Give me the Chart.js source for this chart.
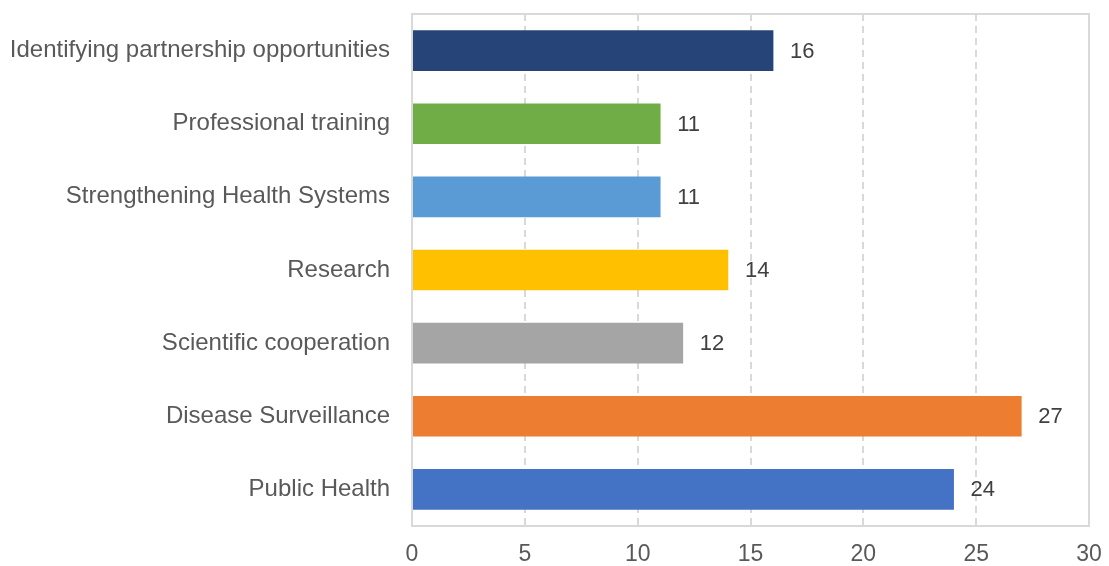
<!DOCTYPE html>
<html>
<head>
<meta charset="utf-8">
<script src="https://cdn.jsdelivr.net/npm/chart.js@4/dist/chart.umd.min.js"></script>
<style>
  html, body { margin: 0; padding: 0; background: #fff; }
  #wrap { width: 1109px; height: 566px; }
</style>
</head>
<body>
<div id="wrap"><canvas id="areasChart" width="1109" height="566"></canvas></div>
<script>
// chart data, top bar first
const categories = [
    'Identifying partnership opportunities',
    'Professional training',
    'Strengthening Health Systems',
    'Research',
    'Scientific cooperation',
    'Disease Surveillance',
    'Public Health'
];
const counts = [16, 11, 11, 14, 12, 27, 24];
const barColors = ['#264478', '#70AD47', '#5B9BD5', '#FFC000', '#A5A5A5', '#ED7D31', '#4472C4'];
const xTicks = [0, 5, 10, 15, 20, 25, 30];

const fontFamily = '"Liberation Sans", Arial, Helvetica, sans-serif';

// box around the plot area
const plotBorder = {
    id: 'plotBorder',
    afterDraw(chart) {
        const { ctx, chartArea: a } = chart;
        ctx.save();
        ctx.strokeStyle = '#d9d9d9';
        ctx.lineWidth = 2;
        ctx.strokeRect(a.left, a.top, a.right - a.left, a.bottom - a.top);
        ctx.restore();
    }
};

// value labels to the right of each bar
const valueLabels = {
    id: 'valueLabels',
    afterDatasetsDraw(chart) {
        const { ctx } = chart;
        const meta = chart.getDatasetMeta(0);
        ctx.save();
        ctx.font = '22px ' + fontFamily;
        ctx.fillStyle = '#404040';
        ctx.textAlign = 'left';
        ctx.textBaseline = 'middle';
        meta.data.forEach((bar, i) => {
            ctx.fillText(String(counts[i]), bar.x + 17, bar.y + 1);
        });
        ctx.restore();
    }
};

const ctx = document.getElementById('areasChart').getContext('2d');
const areasChart = new Chart(ctx, {
    type: 'bar',
    data: {
        labels: categories,
        datasets: [{
            data: counts,
            backgroundColor: barColors,
            borderWidth: 0,
            barThickness: 40
        }]
    },
    options: {
        indexAxis: 'y',
        responsive: false,
        animation: false,
        layout: { padding: { top: 14, right: 20, bottom: 0, left: 0 } },
        plugins: {
            legend: { display: false },
            tooltip: { enabled: false }
        },
        scales: {
            x: {
                min: 0,
                max: 30,
                afterBuildTicks(scale) {
                    scale.ticks = xTicks.map(v => ({ value: v }));
                },
                afterFit(scale) {
                    scale.height = 40;
                    scale.paddingLeft = 0;
                    scale.paddingRight = 0;
                },
                border: { display: false },
                grid: {
                    color: '#d9d9d9',
                    lineWidth: 2,
                    drawTicks: false
                },
                ticks: {
                    padding: 15,
                    color: '#595959',
                    font: { family: fontFamily, size: 23 }
                }
            },
            y: {
                afterFit(scale) {
                    scale.width = 412;
                    scale.paddingTop = 0;
                    scale.paddingBottom = 0;
                },
                border: { display: false },
                grid: { display: false, drawTicks: false },
                ticks: {
                    padding: 22,
                    color: '#595959',
                    font: { family: fontFamily, size: 24 }
                }
            }
        }
    },
    plugins: [plotBorder, valueLabels]
});
// dashed vertical grid lines
areasChart.options.scales.x.border.dash = [7, 5];
areasChart.update();
</script>
</body>
</html>
